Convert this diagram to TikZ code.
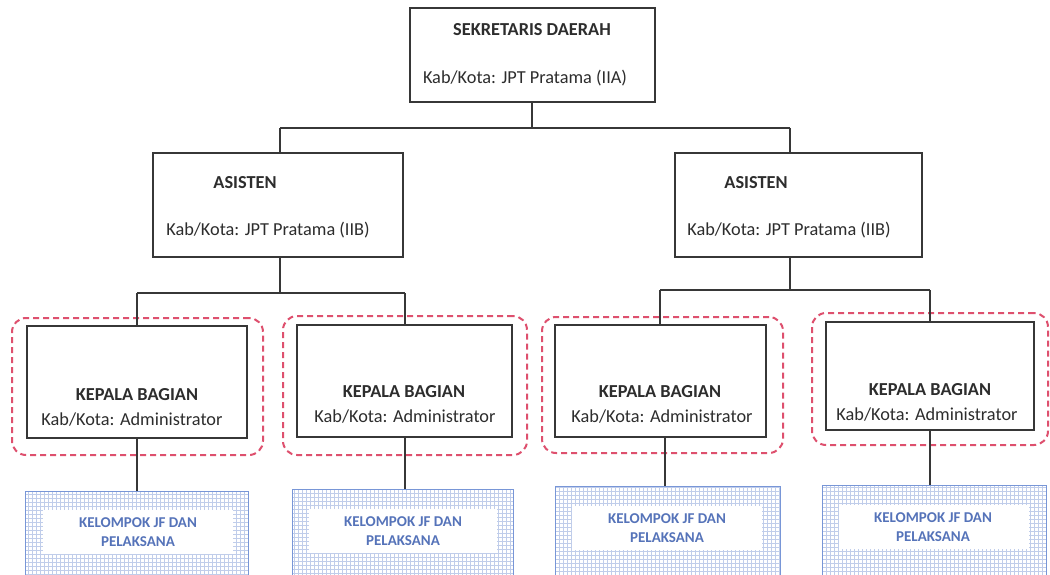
\documentclass[tikz,border=0pt]{standalone}
\usepackage{fontspec}
\setmainfont{Carlito}
\definecolor{boxline}{RGB}{55,55,55}
\definecolor{txt}{RGB}{45,45,45}
\definecolor{pinkdash}{RGB}{222,80,110}
\definecolor{gridblue}{RGB}{192,205,234}
\definecolor{edgeblue}{RGB}{120,150,215}
\definecolor{txtblue}{RGB}{85,115,185}
\begin{document}
\begin{tikzpicture}[x=1pt,y=-1pt,
  box/.style={draw=boxline, line width=2.4pt, fill=white, inner sep=0pt},
  dashbox/.style={draw=pinkdash, line width=2pt, dash pattern=on 6pt off 4pt, rounded corners=14pt, inner sep=0pt},
  gridbox/.style={draw=edgeblue, line width=0.8pt, inner sep=0pt,
    path picture={\draw[gridblue, line width=0.6pt, step=4pt] (path picture bounding box.south west) grid (path picture bounding box.north east);}},
  whitebox/.style={fill=white, draw=none, inner sep=0pt},
  conn/.style={draw=boxline, line width=2pt},
  big/.style={font=\fontsize{18.3}{20}\selectfont, text=txt, inner sep=0pt},
  bigb/.style={font=\fontsize{18.3}{20}\selectfont\bfseries, text=txt, inner sep=0pt},
  small/.style={font=\fontsize{15}{18.5}\selectfont\bfseries, text=txtblue, align=center, inner sep=0pt}
]
\useasboundingbox (0,0) rectangle (1050,575);
\fill[white] (0,0) rectangle (1050,575);

% top box
\node[box, minimum width=245pt, minimum height=94pt] (sek) at (532.5,55) {};
\node[bigb] (sekt) at (532,30) {SEKRETARIS DAERAH};
\node[big] (sekk) at (525,78) {Kab/Kota: JPT Pratama (IIA)};

% asisten boxes
\node[box, minimum width=250pt, minimum height=104pt] (asl) at (278,205) {};
\node[bigb] (aslt) at (245,183) {ASISTEN};
\node[big] (aslk) at (268,230) {Kab/Kota: JPT Pratama (IIB)};
\node[box, minimum width=247pt, minimum height=104pt] (asr) at (798.5,205) {};
\node[bigb] (asrt) at (756,183) {ASISTEN};
\node[big] (asrk) at (789,230) {Kab/Kota: JPT Pratama (IIB)};

% kepala dashed outlines
\node[dashbox, minimum width=251pt, minimum height=137pt] (d1) at (137.5,386.5) {};
\node[dashbox, minimum width=244pt, minimum height=139pt] (d2) at (405,385.5) {};
\node[dashbox, minimum width=241pt, minimum height=136pt] (d3) at (662.5,385) {};
\node[dashbox, minimum width=236pt, minimum height=132pt] (d4) at (930,379) {};

% kepala boxes
\node[box, minimum width=220pt, minimum height=112pt] (k1) at (137,382) {};
\node[box, minimum width=215pt, minimum height=112pt] (k2) at (404.5,381) {};
\node[box, minimum width=211pt, minimum height=112pt] (k3) at (660.5,381) {};
\node[box, minimum width=208pt, minimum height=108pt] (k4) at (930,376) {};
\node[bigb] (k1t) at (137,395) {KEPALA BAGIAN};
\node[big] (k1k) at (132,420) {Kab/Kota: Administrator};
\node[bigb] (k2t) at (404,392) {KEPALA BAGIAN};
\node[big] (k2k) at (405,417) {Kab/Kota: Administrator};
\node[bigb] (k3t) at (660,392) {KEPALA BAGIAN};
\node[big] (k3k) at (662,417) {Kab/Kota: Administrator};
\node[bigb] (k4t) at (930,390) {KEPALA BAGIAN};
\node[big] (k4k) at (927,415) {Kab/Kota: Administrator};

% bottom boxes
\node[gridbox, minimum width=223pt, minimum height=86pt] (b1) at (136.5,534) {};
\node[gridbox, minimum width=221pt, minimum height=88pt] (b2) at (402.5,533) {};
\node[gridbox, minimum width=225pt, minimum height=91pt] (b3) at (667.5,531.5) {};
\node[gridbox, minimum width=224pt, minimum height=92pt] (b4) at (934,531) {};
\node[whitebox, minimum width=190pt, minimum height=44pt] (w1) at (138,532) {};
\node[whitebox, minimum width=188pt, minimum height=44pt] (w2) at (403,531) {};
\node[whitebox, minimum width=190pt, minimum height=44pt] (w3) at (667,528) {};
\node[whitebox, minimum width=190pt, minimum height=44pt] (w4) at (934,527) {};
\node[small] (b1t) at (138,532) {KELOMPOK JF DAN\\PELAKSANA};
\node[small] (b2t) at (403,531) {KELOMPOK JF DAN\\PELAKSANA};
\node[small] (b3t) at (667,528) {KELOMPOK JF DAN\\PELAKSANA};
\node[small] (b4t) at (933,527) {KELOMPOK JF DAN\\PELAKSANA};

% connectors
\coordinate (j0) at (532,128);
\coordinate (jl) at (280,128);
\coordinate (jr) at (790,128);
\draw[conn] (sek.south -| j0) -- (j0);
\draw[conn] (jl) -- (jr);
\draw[conn] (jl) -- (jl |- asl.north);
\draw[conn] (jr) -- (jr |- asr.north);

\coordinate (la) at (280,293);
\coordinate (l1) at (137,293);
\coordinate (l2) at (405,293);
\draw[conn] (la |- asl.south) -- (la);
\draw[conn] (l1) -- (l2);
\draw[conn] (l1) -- (l1 |- k1.north);
\draw[conn] (l2) -- (l2 |- k2.north);

\coordinate (ra) at (790,290);
\coordinate (r3) at (660,290);
\coordinate (r4) at (930,290);
\draw[conn] (ra |- asr.south) -- (ra);
\draw[conn] (r3) -- (r4);
\draw[conn] (r3) -- (r3 |- k3.north);
\draw[conn] (r4) -- (r4 |- k4.north);

\draw[conn] (k1.south) -- (k1.south |- b1.north);
\draw[conn] (k2.south) -- (k2.south |- b2.north);
\draw[conn] (k3.south -| 665,0) -- (665,0 |- b3.north);
\draw[conn] (k4.south) -- (k4.south |- b4.north);
\end{tikzpicture}
\end{document}
